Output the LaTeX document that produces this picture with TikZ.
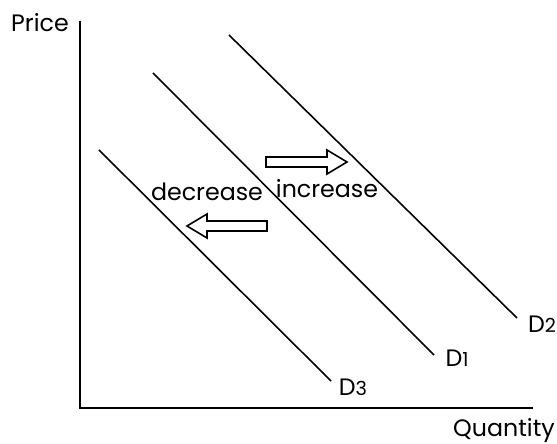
\documentclass[tikz,border=0pt]{standalone}
\usepackage{fontspec}
\setmainfont{Poppins}
\usetikzlibrary{positioning}

\begin{document}
\begin{tikzpicture}[
  lbl/.style={font=\fontsize{13.5}{16}\selectfont, inner sep=0pt},
  curve/.style={line width=0.9pt},
  fatarrow/.style={draw, line width=0.9pt, line join=miter}
]
\useasboundingbox (0,0) rectangle (11.14,8.86);

% axes
\draw[curve] (1.6,8.44) -- (1.6,0.70) -- (10.66,0.70);
\node[lbl] (price) at (0.8,8.4) {Price};
\node[lbl] (qty) at (10.08,0.24) {Quantity};

% demand curves
\draw[curve] (4.58,8.16) -- (10.34,2.5);
\draw[curve] (3.06,7.4) -- (8.68,1.76);
\draw[curve] (1.98,5.86) -- (6.62,1.24);
\node[lbl] (d2) at (10.84,2.38) {D{\fontsize{11}{13}\selectfont 2}};
\node[lbl] (d1) at (9.14,1.70) {D{\fontsize{11}{13}\selectfont 1}};
\node[lbl] (d3) at (7.06,1.12) {D{\fontsize{11}{13}\selectfont 3}};

% shifts
\coordinate (inc) at (5.32,5.62);
\coordinate (dec) at (5.34,4.34);
\draw[fatarrow] (inc) ++(0,0.1) -- ++(1.22,0) -- ++(0,0.14) -- ++(0.4,-0.24)
  -- ++(-0.4,-0.24) -- ++(0,0.14) -- ++(-1.22,0) -- cycle;
\draw[fatarrow] (dec) ++(0,0.1) -- ++(-1.2,0) -- ++(0,0.14) -- ++(-0.4,-0.24)
  -- ++(0.4,-0.24) -- ++(0,0.14) -- ++(1.2,0) -- cycle;
\node[lbl] (inctxt) at (6.54,5.08) {increase};
\node[lbl] (dectxt) at (4.14,5.02) {decrease};
\end{tikzpicture}
\end{document}
